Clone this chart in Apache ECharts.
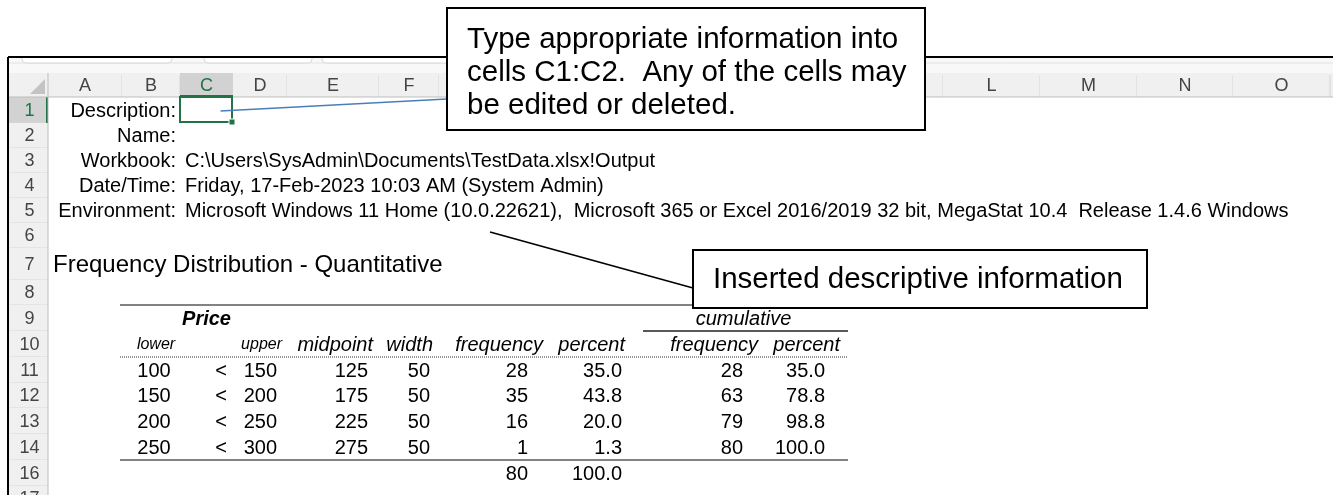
<!DOCTYPE html>
<html lang="en">
<head>
    <meta charset="UTF-8">
    <title>Frequency Distribution - Quantitative</title>
    <script src="https://cdn.jsdelivr.net/npm/echarts@6/dist/echarts.min.js"></script>
</head>
<style>
html,body{margin:0;padding:0;background-color:#fff}
#chartBox{width:1333px;height:495px}
</style>
<body>
    <div id="chartBox"></div>
</body>
<script>
// sheet contents
const colLetters = ['A','B','C','D','E','F','G','H','I','J','K','L','M','N','O'];
const rowNumbers = [1,2,3,4,5,6,7,8,9,10,11,12,13,14,16,17];
const infoLabels = ['Description:','Name:','Workbook:','Date/Time:','Environment:'];
const infoValues = ['', '', 'C:\\Users\\SysAdmin\\Documents\\TestData.xlsx!Output',
    'Friday, 17-Feb-2023 10:03 AM (System Admin)',
    'Microsoft Windows 11 Home (10.0.22621),  Microsoft 365 or Excel 2016/2019 32 bit, MegaStat 10.4  Release 1.4.6 Windows'];
const tableTitle = 'Frequency Distribution - Quantitative';
const variableName = 'Price';
const groupLabel = 'cumulative';
const colHeaders = ['lower','upper','midpoint','width','frequency','percent','frequency','percent'];
const lower = [100, 150, 200, 250];
const upper = [150, 200, 250, 300];
const midpoint = [125, 175, 225, 275];
const classWidth = [50, 50, 50, 50];
const frequency = [28, 35, 16, 1];
const percent = [35.0, 43.8, 20.0, 1.3];
const cumFrequency = [28, 63, 79, 80];
const cumPercent = [35.0, 78.8, 98.8, 100.0];
const totalFrequency = 80;
const totalPercent = 100.0;
const noteTop = ['Type appropriate information into', 'cells C1:C2.  Any of the cells may', 'be edited or deleted.'];
const noteBottom = 'Inserted descriptive information';

// layout
const W = 1333, H = 495;
const FONT = '"Liberation Sans", Arial, sans-serif';
const frameX = 8, frameTop = 57;
const hdrTop = 73, hdrH = 24, rowHdrW = 40;
const colWidths = [74,58,53,54,92,60,110,82,133,82,97,97,97,96,97];
const rowHeights = [26,25,25,25,25,25,32,25,26,26,26,25,26,26,26,25];
const sheetLeft = frameX + rowHdrW;
const sheetTop = hdrTop + hdrH;
const colEdges = [sheetLeft];
colWidths.forEach(w => colEdges.push(colEdges[colEdges.length - 1] + w));
const rowEdges = [sheetTop];
rowHeights.forEach(h => rowEdges.push(rowEdges[rowEdges.length - 1] + h));
const selCol = 'C', selRow = 1;

function ci(letter) { return colLetters.indexOf(letter); }
function ri(n) { return rowNumbers.indexOf(n); }

const textStyles = {
    info:  {size: 20},
    title: {size: 24},
    price: {size: 20, italic: true, bold: true},
    head:  {size: 20, italic: true},
    small: {size: 16, italic: true},
    num:   {size: 20}
};

// text cells
const cells = [];
function put(letter, rowNo, text, style, align, pad) {
    const c = ci(letter), r = ri(rowNo);
    let x;
    if (align === 'right') x = colEdges[c + 1] - pad;
    else if (align === 'left') x = colEdges[c] + pad;
    else x = (colEdges[c] + colEdges[c + 1]) / 2 + pad;
    cells.push({x: x, y: (rowEdges[r] + rowEdges[r + 1]) / 2 + 1, text: String(text), style: style, align: align});
}
infoLabels.forEach((t, i) => {
    put('B', i + 1, t, 'info', 'right', 4);
    if (infoValues[i]) put('C', i + 1, infoValues[i], 'info', 'left', 5);
});
put('A', 7, tableTitle, 'title', 'left', 5);
put('C', 9, variableName, 'price', 'center', 0);
cells.push({x: (colEdges[ci('I')] + colEdges[ci('K')]) / 2 + 5, y: (rowEdges[ri(9)] + rowEdges[ri(10)]) / 2 + 1,
    text: groupLabel, style: 'head', align: 'center'});
// column headers row 10
const headCols = ['B','D','E','F','G','H','I','J'];
const headPads = [5, 5, 6, 6, 6, 6, 6, 6];
headCols.forEach((c, k) => {
    const small = k < 2;
    put(c, 10, colHeaders[k], small ? 'small' : 'head', k === 0 ? 'center' : 'right', headPads[k]);
});
// class rows
const numPad = {D: 10, E: 11, F: 9, G: 21, H: 9, I: 21, J: 21};
lower.forEach((v, i) => {
    const r = 11 + i;
    put('B', r, lower[i], 'num', 'center', 3);
    put('C', r, '<', 'num', 'right', 6);
    put('D', r, upper[i], 'num', 'right', numPad.D);
    put('E', r, midpoint[i], 'num', 'right', numPad.E);
    put('F', r, classWidth[i], 'num', 'right', numPad.F);
    put('G', r, frequency[i], 'num', 'right', numPad.G);
    put('H', r, percent[i].toFixed(1), 'num', 'right', numPad.H);
    put('I', r, cumFrequency[i], 'num', 'right', numPad.I);
    put('J', r, cumPercent[i].toFixed(1), 'num', 'right', numPad.J);
});
put('G', 16, totalFrequency, 'num', 'right', numPad.G);
put('H', 16, totalPercent.toFixed(1), 'num', 'right', numPad.H);

// table rules
const ruleL = colEdges[ci('B')] - 2, ruleR = colEdges[ci('K')] + 2;
const rules = [
    {x1: ruleL, x2: ruleR, y: rowEdges[ri(9)], color: '#595959', w: 1.5},
    {x1: colEdges[ci('I')] + 12, x2: ruleR, y: rowEdges[ri(10)], color: '#222', w: 1.5},
    {x1: ruleL, x2: ruleR, y: rowEdges[ri(11)], color: '#333', w: 1, dash: [1, 1]},
    {x1: ruleL, x2: ruleR, y: rowEdges[ri(16)], color: '#595959', w: 1.5}
];

function textEl(p, text, st, align, color) {
    return {
        type: 'text', x: p[0], y: p[1],
        style: {
            text: text, fill: color || '#000', fontSize: st.size,
            fontStyle: st.italic ? 'italic' : 'normal', fontWeight: st.bold ? 'bold' : 'normal',
            fontFamily: FONT, align: align, verticalAlign: 'middle'
        }
    };
}

function renderCell(params, api) {
    const c = cells[params.dataIndex];
    return textEl(api.coord([c.x, c.y]), c.text, textStyles[c.style], c.align);
}

function renderRule(params, api) {
    const r = rules[params.dataIndex];
    const a = api.coord([r.x1, r.y]), b = api.coord([r.x2, r.y]);
    return {type: 'line', shape: {x1: a[0], y1: a[1], x2: b[0], y2: b[1]},
        style: {stroke: r.color, lineWidth: r.w, lineDash: r.dash || null}};
}

function renderColHeader(params, api) {
    const i = params.dataIndex;
    const tl = api.coord([colEdges[i], hdrTop]), br = api.coord([colEdges[i + 1], sheetTop]);
    const sel = colLetters[i] === selCol;
    const kids = [
        {type: 'rect', shape: {x: tl[0], y: tl[1], width: br[0] - tl[0], height: br[1] - tl[1]},
            style: {fill: sel ? '#d2d2d2' : '#f0f0f0'}},
        {type: 'line', shape: {x1: br[0], y1: tl[1] + 2, x2: br[0], y2: br[1]}, style: {stroke: '#d4d4d4', lineWidth: 1}},
        textEl([(tl[0] + br[0]) / 2, (tl[1] + br[1]) / 2 + 1], colLetters[i], {size: 18}, 'center', sel ? '#217346' : '#444')
    ];
    if (sel) kids.push({type: 'line', shape: {x1: tl[0], y1: br[1] - 1, x2: br[0], y2: br[1] - 1},
        style: {stroke: '#217346', lineWidth: 2}});
    return {type: 'group', children: kids};
}

function renderRowHeader(params, api) {
    const i = params.dataIndex;
    const tl = api.coord([frameX + 1, rowEdges[i]]), br = api.coord([sheetLeft, rowEdges[i + 1]]);
    const sel = rowNumbers[i] === selRow;
    const kids = [
        {type: 'rect', shape: {x: tl[0], y: tl[1], width: br[0] - tl[0], height: br[1] - tl[1]},
            style: {fill: sel ? '#d2d2d2' : '#f0f0f0'}},
        {type: 'line', shape: {x1: tl[0], y1: br[1], x2: br[0], y2: br[1]}, style: {stroke: '#d9d9d9', lineWidth: 1}},
        textEl([(tl[0] + br[0]) / 2 + 1, (tl[1] + br[1]) / 2 + 1], String(rowNumbers[i]), {size: 18}, 'center', sel ? '#217346' : '#444')
    ];
    if (sel) kids.push({type: 'line', shape: {x1: br[0] - 1, y1: tl[1], x2: br[0] - 1, y2: br[1]},
        style: {stroke: '#217346', lineWidth: 2}});
    return {type: 'group', children: kids};
}

function renderSelection(params, api) {
    const c = ci(selCol), r = ri(selRow);
    const tl = api.coord([colEdges[c], rowEdges[r]]), br = api.coord([colEdges[c + 1], rowEdges[r + 1]]);
    return {type: 'group', children: [
        {type: 'rect', shape: {x: tl[0], y: tl[1], width: br[0] - tl[0] - 1, height: br[1] - tl[1] - 1},
            style: {fill: null, stroke: '#217346', lineWidth: 2}},
        {type: 'rect', shape: {x: br[0] - 4, y: br[1] - 4, width: 6, height: 6}, style: {fill: '#217346', stroke: '#fff', lineWidth: 1}}
    ]};
}

// callout positions
const box1 = {x: 447, y: 8, w: 478, h: 122};
const box2 = {x: 693, y: 250, w: 454, h: 58};
const noteSize = 29.5;
const c1 = ci(selCol), r1 = ri(selRow);
const link1 = [[(colEdges[c1] + colEdges[c1 + 1]) / 2 + 14, (rowEdges[r1] + rowEdges[r1 + 1]) / 2 + 1], [box1.x, 99]];
const link2 = [[490, 232], [box2.x, 288]];

function generateChartOption() {
    const graphics = [
        {type: 'rect', shape: {x: frameX, y: frameTop, width: W - frameX, height: hdrTop - frameTop}, style: {fill: '#f8f8f8'}, z: 1},
        {type: 'line', shape: {x1: frameX, y1: frameTop + 6, x2: W, y2: frameTop + 6}, style: {stroke: '#e2e2e2', lineWidth: 1}, z: 1},
        {type: 'rect', shape: {x: 22, y: frameTop, width: 150, height: 6, r: [0, 0, 4, 4]}, style: {fill: '#fff', stroke: '#d8d8d8'}, z: 2},
        {type: 'rect', shape: {x: 204, y: frameTop, width: 108, height: 6, r: [0, 0, 4, 4]}, style: {fill: '#fff', stroke: '#d8d8d8'}, z: 2},
        {type: 'rect', shape: {x: 322, y: frameTop, width: 600, height: 6, r: [0, 0, 4, 4]}, style: {fill: '#fff', stroke: '#d8d8d8'}, z: 2},
        {type: 'rect', shape: {x: frameX, y: hdrTop, width: W - frameX, height: hdrH}, style: {fill: '#f0f0f0'}, z: 1},
        {type: 'rect', shape: {x: frameX, y: sheetTop, width: rowHdrW, height: H - sheetTop}, style: {fill: '#f0f0f0'}, z: 1},
        {type: 'polygon', shape: {points: [[sheetLeft - 3, hdrTop + 6], [sheetLeft - 3, sheetTop - 3], [sheetLeft - 18, sheetTop - 3]]},
            style: {fill: '#c3c3c3'}, z: 5},
        {type: 'line', shape: {x1: frameX, y1: sheetTop, x2: W, y2: sheetTop}, style: {stroke: '#bdbdbd', lineWidth: 1}, z: 6},
        {type: 'line', shape: {x1: sheetLeft, y1: hdrTop, x2: sheetLeft, y2: H}, style: {stroke: '#bdbdbd', lineWidth: 1}, z: 6},
        {type: 'line', shape: {x1: frameX, y1: frameTop, x2: W, y2: frameTop}, style: {stroke: '#000', lineWidth: 2}, z: 7},
        {type: 'line', shape: {x1: frameX, y1: frameTop, x2: frameX, y2: H}, style: {stroke: '#000', lineWidth: 2}, z: 7},
        {type: 'line', shape: {x1: link1[0][0], y1: link1[0][1], x2: link1[1][0], y2: link1[1][1]},
            style: {stroke: '#4a7ebb', lineWidth: 1.5}, z: 9},
        {type: 'line', shape: {x1: link2[0][0], y1: link2[0][1], x2: link2[1][0], y2: link2[1][1]},
            style: {stroke: '#000', lineWidth: 1.5}, z: 9},
        {type: 'rect', shape: {x: box1.x, y: box1.y, width: box1.w, height: box1.h}, style: {fill: '#fff', stroke: '#000', lineWidth: 2}, z: 10},
        {type: 'rect', shape: {x: box2.x, y: box2.y, width: box2.w, height: box2.h}, style: {fill: '#fff', stroke: '#000', lineWidth: 2}, z: 10},
        {type: 'text', x: box2.x + 20, y: box2.y + box2.h / 2 + 1, z: 11,
            style: {text: noteBottom, fill: '#000', fontSize: noteSize, fontFamily: FONT, verticalAlign: 'middle'}}
    ];
    noteTop.forEach((t, k) => graphics.push({type: 'text', x: box1.x + 20, y: box1.y + 32 + k * 33, z: 11,
        style: {text: t, fill: '#000', fontSize: noteSize, fontFamily: FONT, verticalAlign: 'middle'}}));

    return {
        animation: false,
        backgroundColor: '#fff',
        grid: {left: 0, right: 0, top: 0, bottom: 0},
        xAxis: {type: 'value', min: 0, max: W, show: false},
        yAxis: {type: 'value', min: 0, max: H, inverse: true, show: false},
        series: [
            {type: 'custom', name: 'colHeaders', z: 3, renderItem: renderColHeader,
                data: colLetters.map((l, i) => [colEdges[i], hdrTop])},
            {type: 'custom', name: 'rowHeaders', z: 3, renderItem: renderRowHeader,
                data: rowNumbers.map((n, i) => [frameX, rowEdges[i]])},
            {type: 'custom', name: 'rules', z: 4, renderItem: renderRule,
                data: rules.map(r => [r.x1, r.y])},
            {type: 'custom', name: 'cells', z: 5, renderItem: renderCell,
                data: cells.map(c => [c.x, c.y])},
            {type: 'custom', name: 'selection', z: 6, renderItem: renderSelection,
                data: [[colEdges[ci(selCol)], rowEdges[ri(selRow)]]]}
        ],
        graphic: graphics
    };
}

let chartObj = echarts.init(document.getElementById('chartBox'));
chartObj.setOption(generateChartOption());
</script>
</html>
